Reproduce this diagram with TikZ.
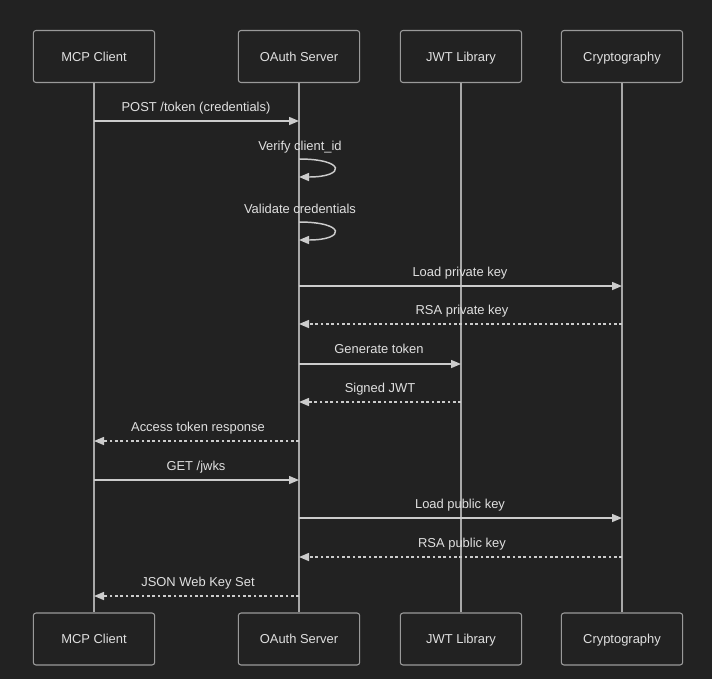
\documentclass[tikz,border=0pt]{standalone}
\usepackage{fontspec}
\setmainfont{Liberation Sans}
\usetikzlibrary{arrows.meta}
\definecolor{bg}{HTML}{222222}
\definecolor{boxline}{HTML}{9A9A9A}
\definecolor{life}{HTML}{A8A8A8}
\definecolor{msg}{HTML}{CCCCCC}
\definecolor{txt}{HTML}{E0E0E0}
\tikzset{
  actor/.style={draw=boxline, fill=bg, rounded corners=2pt, line width=0.8pt,
    minimum width=91pt, minimum height=39pt, inner sep=0pt, text=txt,
    text height=7.5pt, text depth=0.5pt, font=\fontsize{9.7}{11}\selectfont},
  lifeline/.style={draw=life, line width=1.1pt},
  sync/.style={draw=msg, line width=1.1pt, -{Triangle[length=7.5pt,width=6pt]}},
  reply/.style={draw=msg, line width=1.1pt, dash pattern=on 2pt off 2pt, -{Triangle[length=7.5pt,width=6pt]}},
  lbl/.style={text=txt, font=\fontsize{9.7}{11}\selectfont, inner sep=0pt,
    text height=7.5pt, text depth=0.5pt}
}
\begin{document}
\begin{tikzpicture}[x=0.75pt,y=-0.75pt]
\fill[bg] (0,0) rectangle (712,679);
\useasboundingbox (0,0) rectangle (712,679);
% actors top
\node[actor] (mcpT) at (94,56.5) {MCP Client};
\node[actor] (oauthT) at (299,56.5) {OAuth Server};
\node[actor] (jwtT) at (461,56.5) {JWT Library};
\node[actor] (cryT) at (622,56.5) {Cryptography};
% actors bottom
\node[actor] (mcpB) at (94,639) {MCP Client};
\node[actor] (oauthB) at (299,639) {OAuth Server};
\node[actor] (jwtB) at (461,639) {JWT Library};
\node[actor] (cryB) at (622,639) {Cryptography};
% lifelines
\draw[lifeline] (mcpT) -- (mcpB);
\draw[lifeline] (oauthT) -- (oauthB);
\draw[lifeline] (jwtT) -- (jwtB);
\draw[lifeline] (cryT) -- (cryB);
% coordinates on lifelines
\foreach \n/\y in {1/121,2/159,3/177,4/222,5/240,6/286,7/324,8/364,9/402,10/441,11/480,12/518,13/557,14/596}{
  \coordinate (M\n) at (94,\y);
  \coordinate (O\n) at (299,\y);
  \coordinate (J\n) at (461,\y);
  \coordinate (C\n) at (622,\y);
}
% messages
\draw[sync] (M1) -- (O1);
\node[lbl] (l1) at (196,107) {POST /token (credentials)};
\node[lbl] (l2) at (300,145.5) {Verify client\_id};
\draw[sync] (O2) .. controls (346,159) and (346,177) .. (O3);
\node[lbl] (l3) at (300,208.5) {Validate credentials};
\draw[sync] (O4) .. controls (346,222) and (346,240) .. (O5);
\draw[sync] (O6) -- (C6);
\node[lbl] (l4) at (460,272) {Load private key};
\draw[reply] (C7) -- (O7);
\node[lbl] (l5) at (462,310) {RSA private key};
\draw[sync] (O8) -- (J8);
\node[lbl] (l6) at (379,349) {Generate token};
\draw[reply] (J9) -- (O9);
\node[lbl] (l7) at (380,387.5) {Signed JWT};
\draw[reply] (O10) -- (M10);
\node[lbl] (l8) at (198,427) {Access token response};
\draw[sync] (M11) -- (O11);
\node[lbl] (l9) at (196,465.5) {GET /jwks};
\draw[sync] (O12) -- (C12);
\node[lbl] (l10) at (460,504) {Load public key};
\draw[reply] (C13) -- (O13);
\node[lbl] (l11) at (462,543) {RSA public key};
\draw[reply] (O14) -- (M14);
\node[lbl] (l12) at (198,582) {JSON Web Key Set};
\end{tikzpicture}
\end{document}
